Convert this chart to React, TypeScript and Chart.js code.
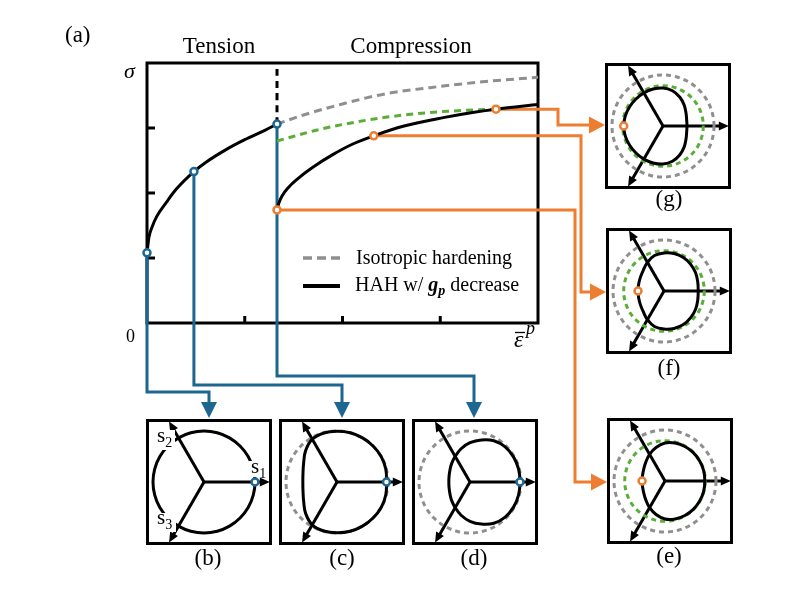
import React, { useEffect, useRef } from 'react';
import { Chart, registerables } from 'chart.js';

Chart.register(...registerables);

const BLUE = '#1d6690';
const ORANGE = '#ed7d31';
const GREEN = '#5aae37';
const GREY = '#8f8f8f';
const FONT = '"Liberation Serif", "Times New Roman", serif';

// ---- main chart (a) data ----
const TENSION_STRAIN = [0, 0.02, 0.05, 0.1, 0.2, 0.3, 0.48, 0.6, 0.8, 1.0, 1.2, 1.33];
const TENSION_STRESS = [1.08, 1.32, 1.47, 1.64, 1.86, 2.06, 2.33, 2.47, 2.66, 2.82, 2.96, 3.06];
const COMP_STRAIN = [1.33, 1.35, 1.38, 1.45, 1.55, 1.7, 1.9, 2.1, 2.32, 2.63, 3.03, 3.33, 3.57, 4.0];
const COMP_STRESS = [1.74, 1.85, 1.95, 2.09, 2.23, 2.4, 2.59, 2.75, 2.88, 3.03, 3.16, 3.24, 3.29, 3.36];
const ISO_STRAIN = [1.33, 1.6, 2.0, 2.42, 3.0, 3.5, 4.0];
const ISO_STRESS = [3.06, 3.2, 3.37, 3.52, 3.64, 3.72, 3.78];
const GREEN_STRAIN = [1.33, 1.8, 2.42, 3.0, 3.57];
const GREEN_STRESS = [2.8, 2.99, 3.16, 3.25, 3.29];
const REVERSAL_STRAIN = [1.33, 1.33];
const REVERSAL_STRESS = [3.06, 4.0];
const TENSION_PT_STRAIN = [0, 0.48, 1.33];
const TENSION_PT_STRESS = [1.08, 2.33, 3.06];
const COMP_PT_STRAIN = [1.33, 2.32, 3.57];
const COMP_PT_STRESS = [1.74, 2.88, 3.29];
const X_TICKS = [1, 2, 3];
const Y_TICKS = [1, 2, 3];

// ---- yield surfaces (radius per 15 deg, starting at s1 direction) ----
const ANGLES = ['0°', '15°', '30°', '45°', '60°', '75°', '90°', '105°', '120°', '135°', '150°', '165°',
  '180°', '195°', '210°', '225°', '240°', '255°', '270°', '285°', '300°', '315°', '330°', '345°'];
const ISO_CIRCLE = [1, 1, 1, 1, 1, 1, 1, 1, 1, 1, 1, 1, 1, 1, 1, 1, 1, 1, 1, 1, 1, 1, 1, 1];
const GREEN_CIRCLE = [0.79, 0.79, 0.79, 0.79, 0.79, 0.79, 0.79, 0.79, 0.79, 0.79, 0.79, 0.79,
  0.79, 0.79, 0.79, 0.79, 0.79, 0.79, 0.79, 0.79, 0.79, 0.79, 0.79, 0.79];
const SURF_B = [1, 1, 1, 1, 1, 1, 1, 1, 1, 1, 1, 1, 1, 1, 1, 1, 1, 1, 1, 1, 1, 1, 1, 1];
const SURF_C = [0.97, 0.99, 1.0, 1.0, 1.0, 1.0, 0.995, 0.995, 0.97, 0.87, 0.755, 0.69,
  0.67, 0.69, 0.755, 0.87, 0.97, 0.995, 0.995, 1.0, 1.0, 1.0, 1.0, 0.99];
const SURF_D = [0.98, 0.985, 0.985, 0.975, 0.935, 0.855, 0.77, 0.675, 0.58, 0.51, 0.455, 0.425,
  0.415, 0.425, 0.455, 0.51, 0.58, 0.675, 0.77, 0.855, 0.935, 0.975, 0.985, 0.985];
const SURF_G = [0.47, 0.48, 0.52, 0.585, 0.655, 0.715, 0.745, 0.75, 0.75, 0.75, 0.755, 0.765,
  0.77, 0.765, 0.755, 0.75, 0.75, 0.75, 0.745, 0.715, 0.655, 0.585, 0.52, 0.48];
const SURF_F = [0.67, 0.685, 0.715, 0.74, 0.76, 0.76, 0.745, 0.72, 0.65, 0.575, 0.535, 0.515,
  0.51, 0.515, 0.535, 0.575, 0.65, 0.72, 0.745, 0.76, 0.76, 0.74, 0.715, 0.685];
const SURF_E = [0.78, 0.785, 0.785, 0.785, 0.78, 0.77, 0.745, 0.68, 0.605, 0.53, 0.48, 0.455,
  0.45, 0.455, 0.48, 0.53, 0.605, 0.68, 0.745, 0.77, 0.78, 0.785, 0.785, 0.785];

const AXES = [
  { index: 0, length: 1.29 },
  { index: 16, length: 1.37 },
  { index: 8, length: 1.37 },
];

const PANELS = [
  { key: 'b', left: 146, top: 419, surface: SURF_B, iso: null, green: null, markerIndex: 0, markerValue: 1.0, color: BLUE, labelX: 208, labelY: 565, sLabels: true },
  { key: 'c', left: 279, top: 419, surface: SURF_C, iso: ISO_CIRCLE, green: null, markerIndex: 0, markerValue: 0.97, color: BLUE, labelX: 342, labelY: 565, sLabels: false },
  { key: 'd', left: 412, top: 419, surface: SURF_D, iso: ISO_CIRCLE, green: null, markerIndex: 0, markerValue: 0.98, color: BLUE, labelX: 474, labelY: 565, sLabels: false },
  { key: 'g', left: 605, top: 63, surface: SURF_G, iso: ISO_CIRCLE, green: GREEN_CIRCLE, markerIndex: 12, markerValue: 0.77, color: ORANGE, labelX: 669, labelY: 206, sLabels: false },
  { key: 'f', left: 606, top: 228, surface: SURF_F, iso: ISO_CIRCLE, green: GREEN_CIRCLE, markerIndex: 12, markerValue: 0.51, color: ORANGE, labelX: 669, labelY: 375, sLabels: false },
  { key: 'e', left: 607, top: 418, surface: SURF_E, iso: ISO_CIRCLE, green: GREEN_CIRCLE, markerIndex: 12, markerValue: 0.45, color: ORANGE, labelX: 669, labelY: 563, sLabels: false },
];

// connector routing (layout)
const BLUE_ROUTES = [
  { x: 209, y: 392, tip: 418 },
  { x: 342, y: 385, tip: 418 },
  { x: 474, y: 376, tip: 418 },
];
const ORANGE_ROUTES = [
  { x: 575, y: 482, tip: 607 },
  { x: 581, y: 292, tip: 606 },
  { x: 558, y: 125, tip: 605 },
];

const zip = (xs: number[], ys: number[]) => xs.map((x, i) => ({ x, y: ys[i] }));

function drawMainTexts(ctx: CanvasRenderingContext2D) {
  ctx.save();
  ctx.fillStyle = '#000';
  ctx.textBaseline = 'alphabetic';
  ctx.font = `23px ${FONT}`;
  ctx.textAlign = 'left';
  ctx.fillText('(a)', 65, 42);
  ctx.textAlign = 'center';
  ctx.fillText('Tension', 219, 53);
  ctx.fillText('Compression', 411, 53);
  PANELS.forEach((p) => ctx.fillText(`(${p.key})`, p.labelX, p.labelY));
  ctx.textAlign = 'left';
  ctx.font = `italic 22px ${FONT}`;
  ctx.fillText('σ', 124, 78);
  ctx.font = `18px ${FONT}`;
  ctx.fillText('0', 126, 342);
  // epsilon bar p
  ctx.font = `italic 24px ${FONT}`;
  ctx.fillText('ε', 514, 347);
  ctx.font = `italic 18px ${FONT}`;
  ctx.fillText('p', 526, 334);
  ctx.strokeStyle = '#000';
  ctx.lineWidth = 1.3;
  ctx.beginPath();
  ctx.moveTo(515, 332.5);
  ctx.lineTo(525, 332.5);
  ctx.stroke();
  // legend
  ctx.lineWidth = 3.5;
  ctx.strokeStyle = GREY;
  ctx.setLineDash([9, 5]);
  ctx.beginPath();
  ctx.moveTo(303, 258);
  ctx.lineTo(340, 258);
  ctx.stroke();
  ctx.setLineDash([]);
  ctx.strokeStyle = '#000';
  ctx.lineWidth = 4;
  ctx.beginPath();
  ctx.moveTo(303, 286);
  ctx.lineTo(340, 286);
  ctx.stroke();
  ctx.font = `20px ${FONT}`;
  ctx.fillText('Isotropic hardening', 356, 264);
  let x = 355;
  const t1 = 'HAH w/ ';
  ctx.fillText(t1, x, 291);
  x += ctx.measureText(t1).width;
  ctx.font = `italic bold 20px ${FONT}`;
  ctx.fillText('g', x, 291);
  x += ctx.measureText('g').width;
  ctx.font = `italic bold 14px ${FONT}`;
  ctx.fillText('p', x, 295);
  x += ctx.measureText('p').width;
  ctx.font = `20px ${FONT}`;
  ctx.fillText(' decrease', x, 291);
  ctx.restore();
}

const mainPlugin = {
  id: 'mainDecor',
  beforeDatasetsDraw(chart: any) {
    const { ctx, chartArea: a, scales } = chart;
    const xs = scales.x;
    const ys = scales.y;
    ctx.save();
    ctx.strokeStyle = '#000';
    ctx.lineWidth = 3;
    ctx.strokeRect(a.left, a.top, a.right - a.left, a.bottom - a.top);
    ctx.beginPath();
    Y_TICKS.forEach((v) => {
      const y = ys.getPixelForValue(v);
      ctx.moveTo(a.left, y);
      ctx.lineTo(a.left + 8, y);
    });
    X_TICKS.forEach((v) => {
      const x = xs.getPixelForValue(v);
      ctx.moveTo(x, a.bottom);
      ctx.lineTo(x, a.bottom - 7);
    });
    ctx.stroke();
    ctx.lineJoin = 'miter';
    ctx.strokeStyle = BLUE;
    ctx.fillStyle = BLUE;
    BLUE_ROUTES.forEach((r, i) => {
      const px = xs.getPixelForValue(TENSION_PT_STRAIN[i]);
      const py = ys.getPixelForValue(TENSION_PT_STRESS[i]);
      ctx.beginPath();
      ctx.moveTo(px, py);
      ctx.lineTo(px, r.y);
      ctx.lineTo(r.x, r.y);
      ctx.lineTo(r.x, r.tip - 14);
      ctx.stroke();
      ctx.beginPath();
      ctx.moveTo(r.x - 8, r.tip - 16);
      ctx.lineTo(r.x + 8, r.tip - 16);
      ctx.lineTo(r.x, r.tip);
      ctx.closePath();
      ctx.fill();
    });
    ctx.strokeStyle = ORANGE;
    ctx.fillStyle = ORANGE;
    ORANGE_ROUTES.forEach((r, i) => {
      const px = xs.getPixelForValue(COMP_PT_STRAIN[i]);
      const py = ys.getPixelForValue(COMP_PT_STRESS[i]);
      ctx.beginPath();
      ctx.moveTo(px, py);
      ctx.lineTo(r.x, py);
      ctx.lineTo(r.x, r.y);
      ctx.lineTo(r.tip - 14, r.y);
      ctx.stroke();
      ctx.beginPath();
      ctx.moveTo(r.tip - 16, r.y - 8.5);
      ctx.lineTo(r.tip - 16, r.y + 8.5);
      ctx.lineTo(r.tip, r.y);
      ctx.closePath();
      ctx.fill();
    });
    ctx.restore();
  },
  afterDraw(chart: any) {
    drawMainTexts(chart.ctx);
  },
};

function makePanelPlugin(p: any) {
  return {
    id: 'panelDecor',
    beforeDatasetsDraw(chart: any) {
      const ctx = chart.ctx as CanvasRenderingContext2D;
      const r = chart.scales.r;
      ctx.save();
      ctx.strokeStyle = '#000';
      ctx.fillStyle = '#000';
      ctx.lineWidth = 3;
      AXES.forEach((ax) => {
        const c = r.getPointPositionForValue(ax.index, 0);
        const t = r.getPointPositionForValue(ax.index, ax.length);
        const dx = t.x - c.x;
        const dy = t.y - c.y;
        const L = Math.hypot(dx, dy);
        const ux = dx / L;
        const uy = dy / L;
        const bx = t.x - ux * 10;
        const by = t.y - uy * 10;
        ctx.beginPath();
        ctx.moveTo(c.x, c.y);
        ctx.lineTo(bx + ux * 2, by + uy * 2);
        ctx.stroke();
        ctx.beginPath();
        ctx.moveTo(t.x, t.y);
        ctx.lineTo(bx - uy * 4.5, by + ux * 4.5);
        ctx.lineTo(bx + uy * 4.5, by - ux * 4.5);
        ctx.closePath();
        ctx.fill();
      });
      ctx.restore();
    },
    afterDatasetsDraw(chart: any) {
      const ctx = chart.ctx as CanvasRenderingContext2D;
      ctx.save();
      if (p.sLabels) {
        ctx.fillStyle = '#fff';
        ctx.fillRect(9, 11, 20, 20);
        ctx.fillRect(9, 94, 21, 19);
        ctx.fillRect(103, 42, 19, 16);
        ctx.fillStyle = '#000';
        ctx.textBaseline = 'alphabetic';
        ctx.textAlign = 'left';
        const lab = (x: number, y: number, sub: string) => {
          ctx.font = `21px ${FONT}`;
          ctx.fillText('s', x, y);
          const w = ctx.measureText('s').width;
          ctx.font = `14px ${FONT}`;
          ctx.fillText(sub, x + w, y + 5);
        };
        lab(11, 23, '2');
        lab(11, 105, '3');
        lab(105, 54, '1');
      }
      ctx.strokeStyle = '#000';
      ctx.lineWidth = 3;
      ctx.strokeRect(1.5, 1.5, chart.width - 3, chart.height - 3);
      ctx.restore();
    },
  };
}

export default function App() {
  const mainRef = useRef<HTMLCanvasElement>(null);
  const panelRefs = useRef<(HTMLCanvasElement | null)[]>([]);

  useEffect(() => {
    document.body.style.margin = '0';
    const charts: Chart[] = [];
    const lineDs = (data: any[], color: string, dash: number[] = [], width = 3) => ({
      data,
      showLine: true,
      borderColor: color,
      backgroundColor: color,
      borderWidth: width,
      borderDash: dash,
      pointRadius: 0,
      fill: false,
      clip: false,
      cubicInterpolationMode: 'monotone',
    });
    const ptDs = (data: any[], color: string) => ({
      data,
      showLine: false,
      pointRadius: 3.5,
      pointBorderWidth: 2.5,
      pointBackgroundColor: '#fff',
      pointBorderColor: color,
      borderColor: color,
      backgroundColor: '#fff',
      clip: false,
    });
    if (mainRef.current) {
      charts.push(
        new Chart(mainRef.current, {
          type: 'scatter',
          data: {
            datasets: [
              ptDs(zip(TENSION_PT_STRAIN, TENSION_PT_STRESS), BLUE),
              ptDs(zip(COMP_PT_STRAIN, COMP_PT_STRESS), ORANGE),
              lineDs(zip(TENSION_STRAIN, TENSION_STRESS), '#000'),
              lineDs(zip(COMP_STRAIN, COMP_STRESS), '#000'),
              lineDs(zip(GREEN_STRAIN, GREEN_STRESS), GREEN, [7, 5]),
              lineDs(zip(ISO_STRAIN, ISO_STRESS), GREY, [8, 5]),
              lineDs(zip(REVERSAL_STRAIN, REVERSAL_STRESS), '#000', [7, 5]),
            ] as any,
          },
          options: {
            responsive: false,
            animation: false,
            events: [],
            layout: { padding: { left: 147, top: 63, right: 255, bottom: 272 } },
            scales: {
              x: { type: 'linear', min: 0, max: 4, display: false },
              y: { type: 'linear', min: 0, max: 4, display: false },
            },
            plugins: { legend: { display: false }, tooltip: { enabled: false } },
          },
          plugins: [mainPlugin],
        }),
      );
    }
    PANELS.forEach((p, i) => {
      const canvas = panelRefs.current[i];
      if (!canvas) return;
      const ring = (data: number[], color: string, dash: number[], tension: number) => ({
        data,
        borderColor: color,
        backgroundColor: 'transparent',
        borderWidth: 3,
        borderDash: dash,
        pointRadius: 0,
        tension,
        fill: false,
      });
      const datasets: any[] = [
        {
          data: ANGLES.map((_, k) => (k === p.markerIndex ? p.markerValue : null)),
          showLine: false,
          pointRadius: 3.5,
          pointBorderWidth: 2.5,
          pointBackgroundColor: '#fff',
          pointBorderColor: p.color,
          borderColor: p.color,
          backgroundColor: 'transparent',
          fill: false,
        },
        ring(p.surface, '#000', [], 0.4),
      ];
      if (p.green) datasets.push(ring(p.green, GREEN, [5, 4], 0.34));
      if (p.iso) datasets.push(ring(p.iso, GREY, [5, 4], 0.34));
      charts.push(
        new Chart(canvas, {
          type: 'radar',
          data: { labels: ANGLES, datasets },
          options: {
            responsive: false,
            animation: false,
            events: [],
            layout: { padding: { left: 0, top: 0, right: 10, bottom: 0 } },
            scales: {
              r: {
                min: 0,
                max: 58 / 51,
                startAngle: 90,
                grid: { display: false },
                angleLines: { display: false },
                pointLabels: { display: false },
                ticks: { display: false },
              },
            },
            plugins: { legend: { display: false }, tooltip: { enabled: false } },
          } as any,
          plugins: [makePanelPlugin(p)],
        }),
      );
    });
    return () => charts.forEach((c) => c.destroy());
  }, []);

  return (
    <div style={{ position: 'fixed', left: 0, top: 0, width: 793, height: 595, background: '#fff' }}>
      <canvas
        ref={mainRef}
        width={793}
        height={595}
        style={{ position: 'absolute', left: 0, top: 0, width: 793, height: 595 }}
      />
      {PANELS.map((p, i) => (
        <canvas
          key={p.key}
          ref={(el) => {
            panelRefs.current[i] = el;
          }}
          width={126}
          height={126}
          style={{ position: 'absolute', left: p.left, top: p.top, width: 126, height: 126 }}
        />
      ))}
    </div>
  );
}
